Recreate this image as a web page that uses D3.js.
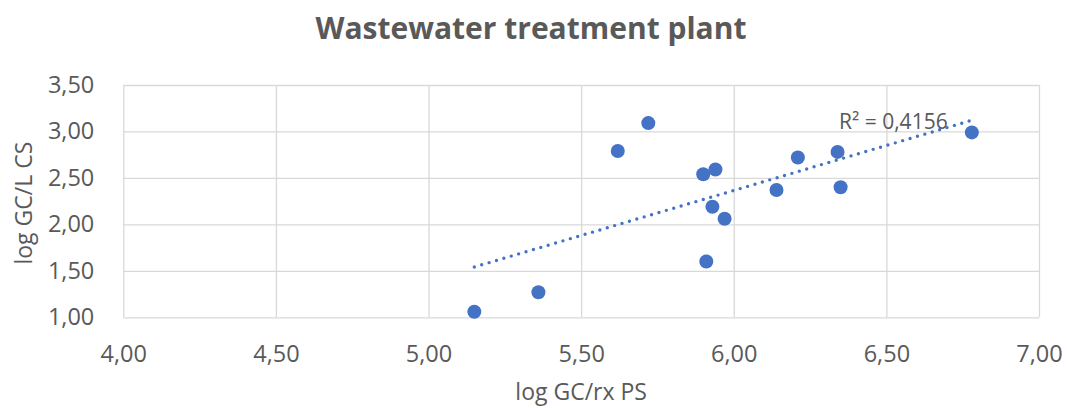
<!DOCTYPE html>
<html>
<head>
<meta charset="utf-8">
<script src="https://cdn.jsdelivr.net/npm/d3@7"></script>
<style>
  html, body { margin: 0; padding: 0; background: #fff; }
  svg { display: block; }
  text { font-family: "Open Sans", "Liberation Sans", sans-serif; fill: #595959; }
</style>
</head>
<body>
<svg id="chart" width="1068" height="408"></svg>
<script>
// ---- data ----
const chartTitle = "Wastewater treatment plant";
const xAxisTitle = "log GC/rx PS";
const yAxisTitle = "log GC/L CS";
const r2Label = "R\u00B2 = 0,4156";
const xValues = [5.15, 5.36, 5.62, 5.72, 5.90, 5.94, 5.93, 5.97, 5.91, 6.14, 6.21, 6.34, 6.35, 6.78];
const yValues = [1.06, 1.27, 2.79, 3.09, 2.54, 2.59, 2.19, 2.06, 1.60, 2.37, 2.72, 2.78, 2.40, 2.99];
const xTicks = [4.0, 4.5, 5.0, 5.5, 6.0, 6.5, 7.0];
const yTicks = [1.0, 1.5, 2.0, 2.5, 3.0, 3.5];

// ---- layout ----
const W = 1068, H = 408;
const plot = { left: 123.3, right: 1039, top: 85, bottom: 317.3 };
const blue = "#4472C4";
const grid = "#D9D9D9";
const fmt = v => v.toFixed(2).replace(".", ",");

const svg = d3.select("#chart");
svg.append("rect").attr("width", W).attr("height", H).attr("fill", "#fff");

const x = d3.scaleLinear().domain([4, 7]).range([plot.left, plot.right]);
const y = d3.scaleLinear().domain([1, 3.5]).range([plot.bottom, plot.top]);

// gridlines + tick labels
const gx = svg.append("g")
  .attr("transform", `translate(0,${plot.bottom})`)
  .call(d3.axisBottom(x).tickValues(xTicks).tickSize(-(plot.bottom - plot.top)).tickFormat(fmt));
gx.select(".domain").remove();
gx.selectAll(".tick line").attr("stroke", grid).attr("stroke-width", 1.3);
gx.selectAll(".tick text").attr("font-size", 23.5).attr("fill", "#595959").attr("dy", "0.35em").attr("y", 36);

const gy = svg.append("g")
  .attr("transform", `translate(${plot.left},0)`)
  .call(d3.axisLeft(y).tickValues(yTicks).tickSize(-(plot.right - plot.left)).tickFormat(fmt).tickPadding(29));
gy.select(".domain").remove();
gy.selectAll(".tick line").attr("stroke", grid).attr("stroke-width", 1.3);
gy.selectAll(".tick text").attr("font-size", 23.5).attr("fill", "#595959");

// title
svg.append("text")
  .attr("x", 531).attr("y", 38.5)
  .attr("text-anchor", "middle")
  .attr("font-size", 30).attr("font-weight", "bold")
  .text(chartTitle);

// axis titles
svg.append("text")
  .attr("x", (plot.left + plot.right) / 2).attr("y", 400)
  .attr("text-anchor", "middle")
  .attr("font-size", 23)
  .text(xAxisTitle);

svg.append("text")
  .attr("transform", `translate(32,${(plot.top + plot.bottom) / 2 + 2}) rotate(-90)`)
  .attr("text-anchor", "middle")
  .attr("font-size", 23)
  .text(yAxisTitle);

// points
const pts = xValues.map((v, i) => ({ x: v, y: yValues[i] }));
svg.append("g").selectAll("circle").data(pts).join("circle")
  .attr("cx", d => x(d.x)).attr("cy", d => y(d.y))
  .attr("r", 7).attr("fill", blue);

// linear trendline (least squares)
const mx = d3.mean(xValues), my = d3.mean(yValues);
const sxy = d3.sum(pts, d => (d.x - mx) * (d.y - my));
const sxx = d3.sum(pts, d => (d.x - mx) ** 2);
const slope = sxy / sxx, intercept = my - slope * mx;
const [x0, x1] = d3.extent(xValues);
svg.append("line")
  .attr("x1", x(x0)).attr("y1", y(intercept + slope * x0))
  .attr("x2", x(x1)).attr("y2", y(intercept + slope * x1))
  .attr("stroke", blue).attr("stroke-width", 3.4)
  .attr("stroke-linecap", "round")
  .attr("stroke-dasharray", "0 7.7");

// R² label
svg.append("text")
  .attr("x", 839).attr("y", 129)
  .attr("font-size", 21)
  .text(r2Label);
</script>
</body>
</html>
